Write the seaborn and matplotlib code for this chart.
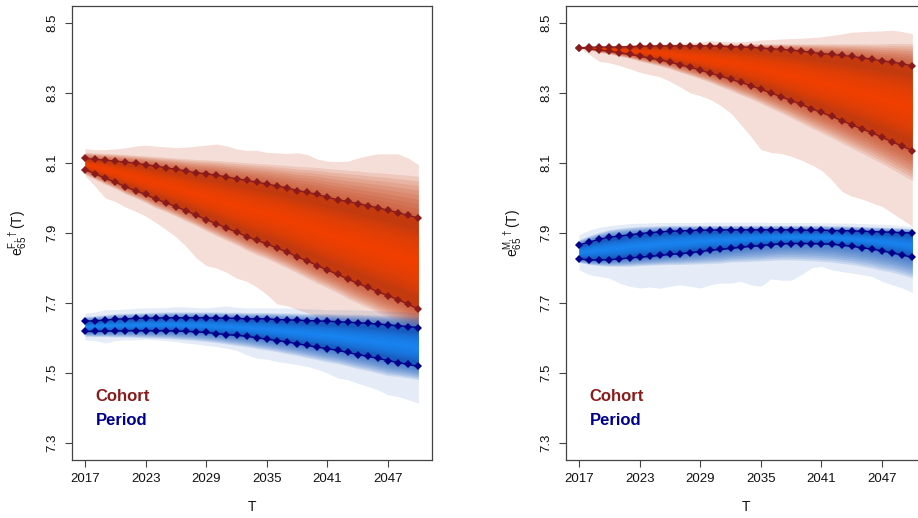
import numpy as np
import matplotlib
matplotlib.use("Agg")
import matplotlib.pyplot as plt
import seaborn as sns

# ---------------------------------------------------------------- data
years = np.arange(2017, 2051)
x_ticks = [2017, 2023, 2029, 2035, 2041, 2047]
y_ticks = [7.3, 7.5, 7.7, 7.9, 8.1, 8.3, 8.5]

# Females, cohort measure
f_coh_hi = [8.113, 8.110, 8.108, 8.105, 8.102, 8.099, 8.095, 8.091, 8.086, 8.082,
            8.077, 8.072, 8.069, 8.065, 8.060, 8.055, 8.050, 8.045, 8.040, 8.034,
            8.029, 8.021, 8.016, 8.010, 8.002, 7.995, 7.990, 7.984, 7.978, 7.972,
            7.965, 7.958, 7.950, 7.943]
f_coh_lo = [8.081, 8.069, 8.056, 8.045, 8.032, 8.021, 8.010, 7.997, 7.987, 7.975,
            7.964, 7.951, 7.938, 7.927, 7.914, 7.903, 7.890, 7.879, 7.869, 7.857,
            7.846, 7.832, 7.820, 7.807, 7.794, 7.782, 7.769, 7.756, 7.745, 7.732,
            7.721, 7.710, 7.696, 7.683]
f_coh_med = [8.097, 8.090, 8.082, 8.075, 8.067, 8.060, 8.053, 8.044, 8.037, 8.029,
             8.021, 8.012, 8.004, 7.996, 7.987, 7.979, 7.970, 7.962, 7.955, 7.946,
             7.938, 7.927, 7.918, 7.909, 7.898, 7.889, 7.880, 7.870, 7.862, 7.852,
             7.843, 7.834, 7.823, 7.813]
f_coh_out_hi = [8.141, 8.138, 8.138, 8.140, 8.143, 8.148, 8.151, 8.148, 8.146, 8.144,
                8.145, 8.148, 8.151, 8.154, 8.149, 8.140, 8.136, 8.136, 8.130, 8.129,
                8.127, 8.129, 8.124, 8.111, 8.105, 8.104, 8.105, 8.114, 8.121, 8.126,
                8.126, 8.126, 8.114, 8.095]
f_coh_out_lo = [8.064, 8.033, 8.000, 7.990, 7.974, 7.962, 7.948, 7.930, 7.910, 7.889,
                7.862, 7.829, 7.807, 7.800, 7.788, 7.771, 7.762, 7.746, 7.724, 7.698,
                7.692, 7.682, 7.672, 7.662, 7.655, 7.648, 7.642, 7.636, 7.630, 7.625,
                7.620, 7.615, 7.610, 7.605]
f_coh_mid_hi = [8.130, 8.129, 8.127, 8.126, 8.124, 8.122, 8.120, 8.118, 8.116, 8.114,
                8.112, 8.110, 8.109, 8.107, 8.105, 8.103, 8.101, 8.099, 8.097, 8.095,
                8.093, 8.090, 8.089, 8.087, 8.084, 8.082, 8.079, 8.077, 8.074, 8.072,
                8.070, 8.067, 8.065, 8.062]
f_coh_mid_lo = [8.067, 8.053, 8.039, 8.027, 8.012, 8.000, 7.987, 7.972, 7.961, 7.948,
                7.934, 7.921, 7.906, 7.892, 7.879, 7.866, 7.851, 7.838, 7.827, 7.813,
                7.800, 7.786, 7.771, 7.756, 7.743, 7.729, 7.713, 7.700, 7.687, 7.673,
                7.660, 7.647, 7.632, 7.624]

# Females, period measure
f_per_hi = [7.648, 7.650, 7.651, 7.654, 7.655, 7.656, 7.657, 7.657, 7.658, 7.658,
            7.658, 7.658, 7.658, 7.657, 7.657, 7.656, 7.655, 7.655, 7.655, 7.653,
            7.652, 7.651, 7.650, 7.649, 7.648, 7.647, 7.645, 7.644, 7.642, 7.640,
            7.638, 7.635, 7.633, 7.630]
f_per_lo = [7.619, 7.619, 7.620, 7.620, 7.621, 7.621, 7.621, 7.621, 7.621, 7.620,
            7.619, 7.618, 7.616, 7.613, 7.610, 7.608, 7.605, 7.601, 7.597, 7.593,
            7.589, 7.584, 7.579, 7.574, 7.570, 7.565, 7.559, 7.553, 7.548, 7.542,
            7.536, 7.530, 7.525, 7.519]
f_per_med = [7.633, 7.634, 7.636, 7.637, 7.638, 7.638, 7.639, 7.639, 7.640, 7.639,
             7.638, 7.638, 7.637, 7.635, 7.633, 7.632, 7.630, 7.628, 7.626, 7.623,
             7.620, 7.617, 7.614, 7.611, 7.609, 7.606, 7.602, 7.598, 7.595, 7.591,
             7.587, 7.583, 7.579, 7.575]
f_per_out_hi = [7.671, 7.674, 7.681, 7.681, 7.683, 7.685, 7.686, 7.686, 7.687, 7.690,
                7.689, 7.687, 7.686, 7.689, 7.692, 7.688, 7.686, 7.686, 7.686, 7.686,
                7.686, 7.685, 7.684, 7.683, 7.681, 7.681, 7.681, 7.680, 7.679, 7.678,
                7.677, 7.676, 7.674, 7.671]
f_per_out_lo = [7.595, 7.593, 7.586, 7.593, 7.595, 7.595, 7.597, 7.595, 7.593, 7.590,
                7.586, 7.583, 7.579, 7.576, 7.571, 7.565, 7.552, 7.543, 7.540, 7.533,
                7.529, 7.524, 7.519, 7.511, 7.500, 7.486, 7.481, 7.471, 7.462, 7.452,
                7.438, 7.433, 7.424, 7.414]
f_per_mid_hi = [7.662, 7.664, 7.667, 7.670, 7.671, 7.672, 7.673, 7.674, 7.675, 7.675,
                7.675, 7.675, 7.675, 7.675, 7.674, 7.674, 7.673, 7.673, 7.673, 7.672,
                7.672, 7.671, 7.670, 7.670, 7.670, 7.669, 7.668, 7.668, 7.667, 7.666,
                7.665, 7.664, 7.663, 7.662]
f_per_mid_lo = [7.605, 7.604, 7.604, 7.603, 7.603, 7.602, 7.601, 7.600, 7.599, 7.597,
                7.595, 7.593, 7.590, 7.587, 7.583, 7.579, 7.575, 7.570, 7.566, 7.561,
                7.555, 7.550, 7.544, 7.538, 7.532, 7.527, 7.520, 7.513, 7.507, 7.500,
                7.493, 7.490, 7.486, 7.481]

# Males, cohort measure
m_coh_hi = [8.429, 8.430, 8.431, 8.431, 8.431, 8.432, 8.433, 8.433, 8.434, 8.434,
            8.434, 8.434, 8.434, 8.434, 8.433, 8.432, 8.431, 8.430, 8.428, 8.426,
            8.424, 8.422, 8.419, 8.416, 8.412, 8.410, 8.407, 8.404, 8.400, 8.396,
            8.391, 8.388, 8.383, 8.377]
m_coh_lo = [8.429, 8.426, 8.422, 8.419, 8.414, 8.410, 8.405, 8.399, 8.394, 8.388,
            8.380, 8.373, 8.365, 8.356, 8.348, 8.339, 8.330, 8.321, 8.310, 8.300,
            8.289, 8.278, 8.267, 8.255, 8.244, 8.233, 8.221, 8.209, 8.197, 8.186,
            8.173, 8.160, 8.148, 8.135]
m_coh_med = [8.429, 8.428, 8.427, 8.425, 8.423, 8.421, 8.419, 8.416, 8.414, 8.411,
             8.407, 8.404, 8.400, 8.395, 8.391, 8.386, 8.381, 8.376, 8.369, 8.363,
             8.357, 8.350, 8.343, 8.336, 8.328, 8.322, 8.314, 8.307, 8.299, 8.291,
             8.282, 8.274, 8.266, 8.256]
m_coh_out_hi = [8.429, 8.431, 8.433, 8.435, 8.436, 8.437, 8.438, 8.439, 8.440, 8.441,
                8.442, 8.443, 8.445, 8.449, 8.447, 8.446, 8.446, 8.448, 8.451, 8.452,
                8.454, 8.455, 8.456, 8.458, 8.460, 8.464, 8.468, 8.473, 8.475, 8.476,
                8.477, 8.479, 8.475, 8.469]
m_coh_out_lo = [8.429, 8.410, 8.390, 8.386, 8.378, 8.369, 8.359, 8.352, 8.346, 8.333,
                8.317, 8.300, 8.292, 8.281, 8.264, 8.243, 8.210, 8.176, 8.138, 8.130,
                8.127, 8.119, 8.108, 8.095, 8.079, 8.052, 8.019, 8.005, 7.997, 7.986,
                7.976, 7.957, 7.938, 7.919]
m_coh_mid_hi = [8.429, 8.431, 8.432, 8.433, 8.434, 8.435, 8.436, 8.437, 8.438, 8.438,
                8.439, 8.439, 8.440, 8.440, 8.440, 8.440, 8.440, 8.440, 8.440, 8.440,
                8.440, 8.440, 8.440, 8.440, 8.440, 8.440, 8.440, 8.440, 8.440, 8.440,
                8.440, 8.441, 8.441, 8.441]
m_coh_mid_lo = [8.429, 8.423, 8.416, 8.411, 8.405, 8.399, 8.391, 8.384, 8.377, 8.369,
                8.359, 8.350, 8.340, 8.330, 8.318, 8.307, 8.294, 8.283, 8.270, 8.256,
                8.243, 8.229, 8.214, 8.200, 8.186, 8.172, 8.157, 8.142, 8.128, 8.113,
                8.098, 8.082, 8.066, 8.050]

# Males, period measure
m_per_hi = [7.866, 7.874, 7.882, 7.888, 7.891, 7.895, 7.898, 7.901, 7.903, 7.905,
            7.906, 7.907, 7.908, 7.908, 7.909, 7.909, 7.909, 7.909, 7.909, 7.909,
            7.909, 7.909, 7.908, 7.908, 7.908, 7.907, 7.907, 7.906, 7.905, 7.904,
            7.903, 7.902, 7.901, 7.900]
m_per_lo = [7.826, 7.823, 7.823, 7.824, 7.826, 7.829, 7.831, 7.833, 7.836, 7.839,
            7.841, 7.844, 7.847, 7.851, 7.853, 7.856, 7.859, 7.862, 7.864, 7.867,
            7.869, 7.870, 7.870, 7.870, 7.869, 7.868, 7.865, 7.862, 7.858, 7.854,
            7.849, 7.843, 7.837, 7.831]
m_per_med = [7.846, 7.849, 7.853, 7.856, 7.858, 7.862, 7.865, 7.867, 7.870, 7.872,
             7.874, 7.876, 7.878, 7.880, 7.881, 7.883, 7.884, 7.886, 7.887, 7.888,
             7.889, 7.890, 7.889, 7.889, 7.889, 7.888, 7.886, 7.884, 7.882, 7.879,
             7.876, 7.873, 7.869, 7.866]
m_per_out_hi = [7.895, 7.908, 7.916, 7.921, 7.924, 7.927, 7.928, 7.929, 7.930, 7.930,
                7.930, 7.930, 7.930, 7.931, 7.931, 7.931, 7.931, 7.931, 7.931, 7.930,
                7.930, 7.930, 7.930, 7.930, 7.929, 7.929, 7.928, 7.928, 7.927, 7.926,
                7.925, 7.923, 7.921, 7.919]
m_per_out_lo = [7.795, 7.781, 7.776, 7.771, 7.757, 7.748, 7.743, 7.746, 7.742, 7.748,
                7.752, 7.748, 7.743, 7.752, 7.757, 7.757, 7.762, 7.752, 7.748, 7.769,
                7.765, 7.765, 7.781, 7.800, 7.805, 7.795, 7.790, 7.786, 7.781, 7.776,
                7.762, 7.752, 7.743, 7.730]
m_per_mid_hi = [7.881, 7.893, 7.902, 7.910, 7.914, 7.917, 7.919, 7.920, 7.921, 7.922,
                7.922, 7.922, 7.922, 7.922, 7.922, 7.922, 7.922, 7.922, 7.922, 7.922,
                7.922, 7.922, 7.922, 7.922, 7.922, 7.921, 7.921, 7.920, 7.919, 7.918,
                7.917, 7.916, 7.915, 7.913]
m_per_mid_lo = [7.816, 7.810, 7.807, 7.805, 7.805, 7.805, 7.807, 7.808, 7.809, 7.810,
                7.810, 7.811, 7.812, 7.813, 7.814, 7.817, 7.818, 7.819, 7.820, 7.822,
                7.823, 7.823, 7.822, 7.821, 7.819, 7.817, 7.813, 7.810, 7.805, 7.800,
                7.793, 7.788, 7.780, 7.771]

# ---------------------------------------------------------------- style
sns.set_style("white")
plt.rcParams["font.family"] = ["Liberation Sans", "DejaVu Sans"]
plt.rcParams["mathtext.fontset"] = "custom"
plt.rcParams["mathtext.rm"] = "Liberation Sans"
plt.rcParams["mathtext.it"] = "Liberation Sans:italic"

COH = dict(base="#C2360A", bright="#FF4500", line="#8B1A1A")
PER = dict(base="#1358BE", bright="#1E90FF", line="#00008B")


def blend(a, b, f):
    a, b = np.asarray(a), np.asarray(b)
    return a + (b - a) * f


def draw_fan(ax, out_lo, out_hi, mid_lo, mid_hi, q_lo, q_hi, med, pal, a_out):
    # outermost (palest) band
    ax.fill_between(years, out_lo, out_hi, color=pal["base"], alpha=a_out, lw=0)
    # stacked bands between the outer shoulder and the inner quantiles
    n = 9
    for k in range(n):
        f = k / n
        ax.fill_between(years, blend(mid_lo, q_lo, f), blend(mid_hi, q_hi, f),
                        color=pal["base"], alpha=0.13, lw=0)
    # central interval, brightening towards the median
    ax.fill_between(years, q_lo, q_hi, color=pal["base"], alpha=0.9, lw=0)
    m = 14
    for k in range(4, m):
        f = k / m
        ax.fill_between(years, blend(q_lo, med, f), blend(q_hi, med, f),
                        color=pal["bright"], alpha=0.14, lw=0)


def draw_bounds(ax, lo, hi, pal):
    for s in (hi, lo):
        sns.lineplot(x=years, y=s, ax=ax, color=pal["line"], lw=1.0,
                     marker="D", markersize=4.2, markeredgewidth=0,
                     estimator=None, legend=False)


fig = plt.figure(figsize=(9.18, 5.18), dpi=100)
W, H = 918, 518
axes_w, axes_h = 360 / W, 454 / H
ax_f = fig.add_axes([71.7 / W, 58 / H, axes_w, axes_h])
ax_m = fig.add_axes([565.7 / W, 58 / H, axes_w, axes_h])

draw_fan(ax_f, f_coh_out_lo, f_coh_out_hi, f_coh_mid_lo, f_coh_mid_hi,
         f_coh_lo, f_coh_hi, f_coh_med, COH, 0.16)
draw_fan(ax_f, f_per_out_lo, f_per_out_hi, f_per_mid_lo, f_per_mid_hi,
         f_per_lo, f_per_hi, f_per_med, PER, 0.11)
draw_bounds(ax_f, f_coh_lo, f_coh_hi, COH)
draw_bounds(ax_f, f_per_lo, f_per_hi, PER)

draw_fan(ax_m, m_coh_out_lo, m_coh_out_hi, m_coh_mid_lo, m_coh_mid_hi,
         m_coh_lo, m_coh_hi, m_coh_med, COH, 0.16)
draw_fan(ax_m, m_per_out_lo, m_per_out_hi, m_per_mid_lo, m_per_mid_hi,
         m_per_lo, m_per_hi, m_per_med, PER, 0.11)
draw_bounds(ax_m, m_coh_lo, m_coh_hi, COH)
draw_bounds(ax_m, m_per_lo, m_per_hi, PER)

for ax, cx, ylab_x, sex in ((ax_f, 251.7, 18, "F"), (ax_m, 745.7, 513, "M")):
    ax.set_xlim(2015.68, 2051.32)
    ax.set_ylim(7.252, 8.548)
    ax.set_xticks(x_ticks)
    ax.set_xticklabels([str(t) for t in x_ticks])
    ax.set_yticks(y_ticks)
    ax.set_yticklabels([f"{v:.1f}" for v in y_ticks], rotation=90, va="center")
    ax.tick_params(axis="both", direction="out", length=5.3, width=0.8,
                   color="#444444", labelsize=9.5, labelcolor="#111111",
                   bottom=True, left=True, top=False, right=False)
    ax.tick_params(axis="x", pad=4.0)
    ax.tick_params(axis="y", pad=4.5)
    ax.set_xlabel("")
    ax.set_ylabel("")
    for sp in ax.spines.values():
        sp.set_visible(True)
        sp.set_color("#444444")
        sp.set_linewidth(0.9)
    ax.text(2018.05, 7.433, "Cohort", color="#8B1A1A", fontsize=12,
            fontweight="bold", ha="left", va="center")
    ax.text(2018.05, 7.365, "Period", color="#00008B", fontsize=12,
            fontweight="bold", ha="left", va="center")
    fig.text(cx / W, 1 - 507 / H, "T", fontsize=10, ha="center", va="center",
             color="#111111")
    fig.text(ylab_x / W, 1 - 233 / H,
             r"$\mathrm{e}_{65}^{\mathrm{" + sex + r"},\dagger}\mathrm{(T)}$",
             fontsize=10, rotation=90, ha="center", va="center", color="#111111")

fig.savefig("out.png", dpi=100)
